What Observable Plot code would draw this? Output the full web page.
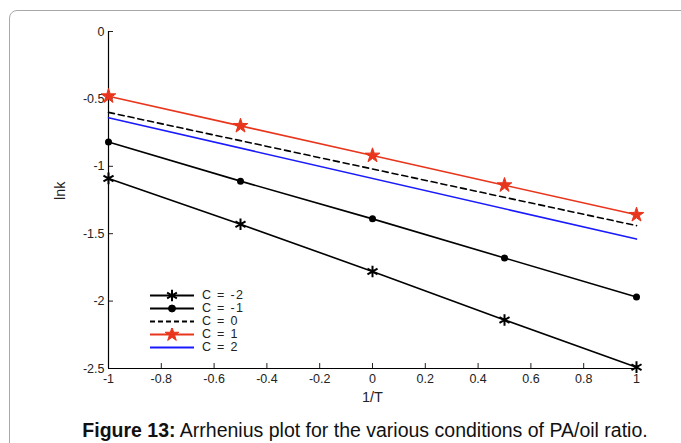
<!DOCTYPE html>
<html>
<head>
<meta charset="utf-8">
<script src="https://cdn.jsdelivr.net/npm/d3@7"></script>
<script src="https://cdn.jsdelivr.net/npm/@observablehq/plot@0.6"></script>
<style>
  html, body { margin: 0; padding: 0; background: #fff; width: 681px; height: 443px; overflow: hidden; }
  body { position: relative; font-family: "Liberation Sans", Arial, sans-serif; }
  #frame { position: absolute; left: 9px; top: 10px; width: 700px; height: 460px; border: 1px solid #a8a8a8; border-radius: 8px; box-sizing: border-box; }
  #chart { position: absolute; left: 0; top: 0; }
  #legend { position: absolute; left: 150px; top: 289px; font-size: 12.5px; letter-spacing: 1.3px; color: #222; }
  #legend div { height: 13px; line-height: 13px; display: flex; align-items: center; }
  #legend svg { display: block; margin-right: 6px; }
  #caption { position: absolute; left: 0; width: 730px; top: 419px; text-align: center; font-size: 19.5px; line-height: 22px; color: #111; white-space: nowrap; }
</style>
</head>
<body>
<div id="frame"></div>
<div id="chart"></div>
<div id="legend"></div>
<div id="caption"><b>Figure 13:</b> Arrhenius plot for the various conditions of PA/oil ratio.</div>
<script>
// Data
const invT = [-1, -0.5, 0, 0.5, 1];
const cMinus2 = [-1.09, -1.43, -1.78, -2.14, -2.49];
const cMinus1 = [-0.82, -1.11, -1.39, -1.68, -1.97];
const c1 = [-0.48, -0.70, -0.92, -1.14, -1.36];
const invTEnds = [-1, 1];
const c0 = [-0.60, -1.44];
const c2 = [-0.64, -1.54];
const xTicks = [-1, -0.8, -0.6, -0.4, -0.2, 0, 0.2, 0.4, 0.6, 0.8, 1];
const yTicks = [0, -0.5, -1, -1.5, -2, -2.5];
const legendLabels = ["C = -2", "C = -1", "C = 0", "C = 1", "C = 2"];

const RED = "#e8351c";
const BLUE = "#1a1aff";

const pts = (xs, ys) => xs.map((x, i) => ({x, y: ys[i]}));
const dM2 = pts(invT, cMinus2);
const dM1 = pts(invT, cMinus1);
const d1 = pts(invT, c1);
const d0 = pts(invTEnds, c0);
const d2 = pts(invTEnds, c2);

const plot = Plot.plot({
  width: 681,
  height: 412,
  marginLeft: 108,
  marginRight: 45,
  marginTop: 31,
  marginBottom: 44,
  style: { fontFamily: "Liberation Sans, Arial, sans-serif", fontSize: "12.5px", color: "#222", background: "transparent" },
  x: { domain: [-1, 1] },
  y: { domain: [-2.5, 0] },
  marks: [
    Plot.axisX(xTicks, { tickSize: -5, tickPadding: 11, tickFormat: d => String(d), fontSize: 12.5, label: null }),
    Plot.axisY(yTicks, { tickSize: -5, tickPadding: 9, tickFormat: d => String(d), fontSize: 12.5, label: null }),
    Plot.text(["1/T"], { frameAnchor: "bottom", dy: 33, fontSize: 14.5, fill: "#222" }),
    Plot.text(["lnk"], { frameAnchor: "left", dx: -48, rotate: -90, fontSize: 14.5, fill: "#222" }),
    Plot.ruleX([-1], { stroke: "#000", strokeWidth: 1.2 }),
    Plot.ruleY([-2.5], { stroke: "#000", strokeWidth: 1.2 }),
    Plot.line(d2, { x: "x", y: "y", stroke: BLUE, strokeWidth: 1.6 }),
    Plot.line(d0, { x: "x", y: "y", stroke: "#000", strokeWidth: 1.6, strokeDasharray: "6,4" }),
    Plot.line(dM1, { x: "x", y: "y", stroke: "#000", strokeWidth: 1.6 }),
    Plot.dot(dM1, { x: "x", y: "y", r: 3.5, fill: "#000", stroke: "none" }),
    Plot.line(dM2, { x: "x", y: "y", stroke: "#000", strokeWidth: 1.6 }),
    Plot.dot(dM2, { x: "x", y: "y", symbol: "asterisk", r: 5.5, stroke: "#000", strokeWidth: 2 }),
    Plot.line(d1, { x: "x", y: "y", stroke: RED, strokeWidth: 1.6 }),
    Plot.dot(d1, { x: "x", y: "y", symbol: "star", r: 4.6, fill: RED, stroke: RED, strokeWidth: 1 })
  ]
});
document.getElementById("chart").appendChild(plot);

// Legend
const legendStyles = [
  { stroke: "#000", dash: null, marker: "asterisk", fill: "none" },
  { stroke: "#000", dash: null, marker: "circle", fill: "#000" },
  { stroke: "#000", dash: "5,3", marker: null },
  { stroke: RED, dash: null, marker: "star", fill: RED },
  { stroke: BLUE, dash: null, marker: null }
];
const leg = document.getElementById("legend");
legendLabels.forEach((lab, i) => {
  const s = legendStyles[i];
  const row = document.createElement("div");
  const ns = "http://www.w3.org/2000/svg";
  const svg = document.createElementNS(ns, "svg");
  svg.setAttribute("width", 46); svg.setAttribute("height", 13);
  const ln = document.createElementNS(ns, "line");
  ln.setAttribute("x1", 0); ln.setAttribute("x2", 44); ln.setAttribute("y1", 6.5); ln.setAttribute("y2", 6.5);
  ln.setAttribute("stroke", s.stroke); ln.setAttribute("stroke-width", 1.8);
  if (s.dash) ln.setAttribute("stroke-dasharray", s.dash);
  svg.appendChild(ln);
  if (s.marker) {
    const sym = s.marker === "asterisk" ? d3.symbolAsterisk : s.marker === "circle" ? d3.symbolCircle : d3.symbolStar;
    const size = s.marker === "circle" ? 38 : s.marker === "star" ? 60 : 90;
    const p = document.createElementNS(ns, "path");
    p.setAttribute("d", d3.symbol(sym, size)());
    p.setAttribute("transform", "translate(22,6.5)");
    p.setAttribute("fill", s.fill);
    p.setAttribute("stroke", s.stroke);
    p.setAttribute("stroke-width", s.marker === "asterisk" ? 2 : 1);
    svg.appendChild(p);
  }
  row.appendChild(svg);
  const t = document.createElement("span");
  t.textContent = lab;
  row.appendChild(t);
  leg.appendChild(row);
});
</script>
</body>
</html>
